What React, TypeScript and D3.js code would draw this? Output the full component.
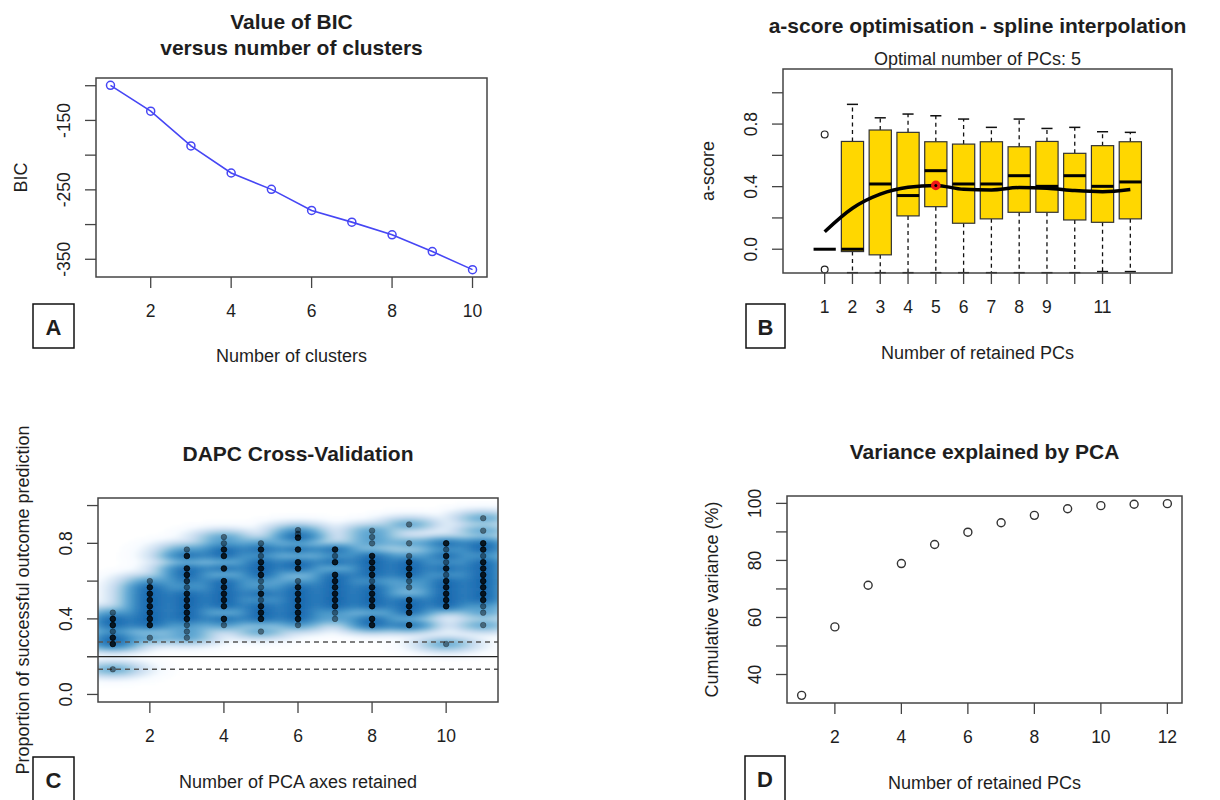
import React, { useEffect, useRef } from 'react';
import * as d3 from 'd3';

// A: BIC versus number of clusters
const bicClusters = [1, 2, 3, 4, 5, 6, 7, 8, 9, 10];
const bicValues = [-99.5, -136.6, -186.7, -225.7, -249.3, -279.6, -296.5, -314.7, -338.9, -364.9];

// B: a-score boxplots per number of retained PCs
const retainedPCs = [1, 2, 3, 4, 5, 6, 7, 8, 9, 10, 11, 12];
const aLower = [0, -0.15, -0.15, -0.15, -0.15, -0.15, -0.15, -0.15, -0.15, -0.15, -0.143, -0.143];
const aQ1 = [0, -0.015, -0.036, 0.213, 0.272, 0.166, 0.194, 0.236, 0.236, 0.187, 0.172, 0.194];
const aMedian = [0, 0, 0.417, 0.343, 0.502, 0.417, 0.417, 0.47, 0.402, 0.47, 0.402, 0.43];
const aQ3 = [0, 0.689, 0.762, 0.747, 0.687, 0.672, 0.687, 0.655, 0.689, 0.613, 0.662, 0.687];
const aUpper = [0, 0.926, 0.84, 0.864, 0.853, 0.832, 0.779, 0.832, 0.772, 0.779, 0.751, 0.747];
const aOutlierPC = [1, 1];
const aOutlierValue = [0.734, -0.13];
const aSpline = [0.112, 0.262, 0.352, 0.396, 0.408, 0.383, 0.379, 0.394, 0.39, 0.375, 0.368, 0.382];
const optimalPC = 5;

// C: DAPC cross-validation
const cvAxes = [1, 2, 3, 4, 5, 6, 7, 8, 9, 10, 11];
const cvSuccess = [
    [0.433, 0.4, 0.367, 0.333, 0.3, 0.267, 0.133],
    [0.6, 0.567, 0.533, 0.5, 0.467, 0.433, 0.4, 0.367, 0.3],
    [0.767, 0.733, 0.667, 0.633, 0.6, 0.567, 0.533, 0.5, 0.467, 0.433, 0.4, 0.367, 0.333, 0.3],
    [0.833, 0.8, 0.767, 0.733, 0.667, 0.6, 0.567, 0.533, 0.5, 0.467, 0.4, 0.367],
    [0.8, 0.767, 0.733, 0.7, 0.667, 0.633, 0.6, 0.567, 0.533, 0.5, 0.467, 0.433, 0.4, 0.333],
    [0.87, 0.85, 0.83, 0.767, 0.7, 0.667, 0.6, 0.567, 0.533, 0.5, 0.467, 0.433, 0.4, 0.367],
    [0.767, 0.733, 0.7, 0.633, 0.6, 0.567, 0.533, 0.5, 0.467, 0.433, 0.4],
    [0.867, 0.833, 0.8, 0.733, 0.7, 0.667, 0.633, 0.6, 0.567, 0.533, 0.5, 0.467, 0.4, 0.367],
    [0.9, 0.8, 0.733, 0.7, 0.667, 0.633, 0.6, 0.567, 0.5, 0.467, 0.433, 0.367],
    [0.8, 0.767, 0.733, 0.7, 0.667, 0.633, 0.6, 0.567, 0.533, 0.5, 0.467, 0.267],
    [0.933, 0.867, 0.8, 0.767, 0.733, 0.7, 0.667, 0.633, 0.6, 0.567, 0.533, 0.5, 0.467, 0.433, 0.367],
];
// how many replicates sit on each dot (darker dots in the picture)
const cvReplicates = [
    [1, 3, 3, 1, 3, 3, 1],
    [1, 3, 3, 3, 3, 3, 3, 3, 1],
    [1, 3, 3, 3, 2, 1, 3, 3, 3, 3, 3, 1, 1, 1],
    [1, 1, 3, 3, 3, 3, 3, 3, 3, 3, 3, 1],
    [1, 3, 1, 3, 3, 3, 1, 1, 3, 1, 3, 3, 3, 1],
    [1, 1, 3, 3, 3, 3, 1, 3, 3, 3, 3, 3, 3, 1],
    [3, 1, 3, 3, 3, 3, 3, 3, 3, 1, 1],
    [1, 1, 1, 3, 3, 3, 3, 1, 3, 3, 3, 3, 3, 3],
    [1, 1, 1, 3, 3, 3, 1, 1, 3, 3, 3, 3],
    [3, 1, 3, 1, 3, 1, 3, 3, 3, 3, 3, 1],
    [1, 1, 3, 3, 1, 3, 3, 3, 3, 3, 3, 3, 1, 1, 1],
];
const cvChanceLower = 0.133;
const cvChanceMean = 0.2;
const cvChanceUpper = 0.277;

// D: cumulative variance explained by PCA
const pcIndex = [1, 2, 3, 4, 5, 6, 7, 8, 9, 10, 11, 12];
const cumVariance = [32.7, 56.7, 71.3, 78.9, 85.6, 89.9, 93.2, 95.8, 98.1, 99.2, 99.7, 99.9];

const FONT = "'Liberation Sans', Arial, Helvetica, sans-serif";
const INK = '#1e1e1e';
const AXIS = '#444';
const blues9 = ['#FFFFFF', '#F7FBFF', '#DEEBF7', '#C6DBEF', '#9ECAE1', '#6BAED6', '#4292C6', '#2171B5', '#08519C', '#08306B'];

type Box = { left: number; right: number; top: number; bottom: number };
type G = d3.Selection<SVGGElement, unknown, null, undefined>;

const boxA: Box = { left: 96, right: 487, top: 78, bottom: 277 };
const boxB: Box = { left: 783, right: 1172, top: 69, bottom: 273 };
const boxC: Box = { left: 98, right: 498, top: 498, bottom: 702 };
const boxD: Box = { left: 787, right: 1182, top: 496, bottom: 703 };

const padded = (lo: number, hi: number): [number, number] => {
    const r = (hi - lo) * 0.04;
    return [lo - r, hi + r];
};

function label(g: G, x: number, y: number, s: string, size = 18, weight = 'normal', rotate = false) {
    const t = g.append('text')
        .attr('x', x)
        .attr('y', y)
        .attr('text-anchor', 'middle')
        .attr('dominant-baseline', 'central')
        .attr('font-family', FONT)
        .attr('font-size', size)
        .attr('font-weight', weight)
        .attr('fill', INK)
        .text(s);
    if (rotate) t.attr('transform', `rotate(-90 ${x} ${y})`);
    return t;
}

function frame(g: G, b: Box) {
    g.append('rect')
        .attr('x', b.left)
        .attr('y', b.top)
        .attr('width', b.right - b.left)
        .attr('height', b.bottom - b.top)
        .attr('fill', 'none')
        .attr('stroke', AXIS)
        .attr('stroke-width', 1.5);
}

function axes(
    g: G, b: Box,
    x: d3.ScaleLinear<number, number>, y: d3.ScaleLinear<number, number>,
    xTicks: number[], xShown: number[],
    yTicks: number[], yShown: number[],
    fy: (v: number) => string,
) {
    const len = 11;
    xTicks.forEach(t => {
        g.append('line')
            .attr('x1', x(t)).attr('x2', x(t))
            .attr('y1', b.bottom).attr('y2', b.bottom + len)
            .attr('stroke', AXIS).attr('stroke-width', 1.3);
    });
    xShown.forEach(t => label(g, x(t), b.bottom + 34, String(t), 17.5));
    yTicks.forEach(t => {
        g.append('line')
            .attr('x1', b.left - len).attr('x2', b.left)
            .attr('y1', y(t)).attr('y2', y(t))
            .attr('stroke', AXIS).attr('stroke-width', 1.3);
    });
    yShown.forEach(t => label(g, b.left - 32, y(t), fy(t), 17.5, 'normal', true));
}

function tag(g: G, x: number, y: number, w: number, h: number, s: string) {
    g.append('rect')
        .attr('x', x).attr('y', y)
        .attr('width', w).attr('height', h)
        .attr('fill', 'white')
        .attr('stroke', '#111')
        .attr('stroke-width', 1.5);
    label(g, x + w / 2, y + 23, s, 22, 'bold');
}

const App: React.FC = () => {
    const svgRef = useRef<SVGSVGElement>(null);

    useEffect(() => {
        if (!svgRef.current) return;
        const svg = d3.select(svgRef.current);
        svg.selectAll('*').remove();
        const defs = svg.append('defs');

        // ---------- A ----------
        const gA = svg.append('g') as unknown as G;
        const xA = d3.scaleLinear().domain(padded(1, 10)).range([boxA.left, boxA.right]);
        const yA = d3.scaleLinear()
            .domain(padded(d3.min(bicValues)!, d3.max(bicValues)!))
            .range([boxA.bottom, boxA.top]);
        const cxA = (boxA.left + boxA.right) / 2;
        label(gA, cxA, 21, 'Value of BIC', 21, 'bold');
        label(gA, cxA, 47, 'versus number of clusters', 21, 'bold');

        const lineA = d3.line<number>().x((_, i) => xA(bicClusters[i])).y(d => yA(d));
        gA.append('path')
            .attr('d', lineA(bicValues))
            .attr('fill', 'none')
            .attr('stroke', '#4646f4')
            .attr('stroke-width', 1.6);
        gA.selectAll('circle.bic')
            .data(bicValues)
            .join('circle')
            .attr('class', 'bic')
            .attr('cx', (_, i) => xA(bicClusters[i]))
            .attr('cy', d => yA(d))
            .attr('r', 4)
            .attr('fill', 'none')
            .attr('stroke', '#4646f4')
            .attr('stroke-width', 1.5);
        frame(gA, boxA);
        axes(gA, boxA, xA, yA, [2, 4, 6, 8, 10], [2, 4, 6, 8, 10],
            d3.range(-350, -99, 50), [-150, -250, -350], v => String(v));
        label(gA, cxA, boxA.bottom + 79, 'Number of clusters');
        label(gA, boxA.left - 75.5, (boxA.top + boxA.bottom) / 2, 'BIC', 18, 'normal', true);
        tag(gA, 33, 304, 41, 44, 'A');

        // ---------- B ----------
        const gB = svg.append('g') as unknown as G;
        const xB = d3.scaleLinear().domain([-0.5, 13.5]).range([boxB.left, boxB.right]);
        const yB = d3.scaleLinear().domain([-0.152, 1.152]).range([boxB.bottom, boxB.top]);
        const cxB = (boxB.left + boxB.right) / 2;
        label(gB, cxB, 25, 'a-score optimisation - spline interpolation', 21, 'bold');
        label(gB, cxB, 59, 'Optimal number of PCs: 5', 18);
        const bw = xB(0.4) - xB(-0.4);

        retainedPCs.forEach((pc, i) => {
            const cx = xB(pc);
            [[aQ3[i], aUpper[i]], [aQ1[i], aLower[i]]].forEach(([from, to]) => {
                gB.append('line')
                    .attr('x1', cx).attr('x2', cx)
                    .attr('y1', yB(from)).attr('y2', yB(to))
                    .attr('stroke', '#111')
                    .attr('stroke-width', 1.3)
                    .attr('stroke-dasharray', '4,3.5');
                gB.append('line')
                    .attr('x1', cx - bw / 4).attr('x2', cx + bw / 4)
                    .attr('y1', yB(to)).attr('y2', yB(to))
                    .attr('stroke', '#111')
                    .attr('stroke-width', 1.5);
            });
            gB.append('rect')
                .attr('x', cx - bw / 2)
                .attr('y', yB(aQ3[i]))
                .attr('width', bw)
                .attr('height', Math.max(0, yB(aQ1[i]) - yB(aQ3[i])))
                .attr('fill', '#FFD700')
                .attr('stroke', '#333')
                .attr('stroke-width', 1.2);
            gB.append('line')
                .attr('x1', cx - bw / 2).attr('x2', cx + bw / 2)
                .attr('y1', yB(aMedian[i])).attr('y2', yB(aMedian[i]))
                .attr('stroke', '#000')
                .attr('stroke-width', 3);
        });
        aOutlierPC.forEach((pc, i) => {
            gB.append('circle')
                .attr('cx', xB(pc)).attr('cy', yB(aOutlierValue[i]))
                .attr('r', 3.4)
                .attr('fill', 'none')
                .attr('stroke', '#222')
                .attr('stroke-width', 1.2);
        });
        const splineB = d3.line<number>()
            .x((_, i) => xB(retainedPCs[i]))
            .y(d => yB(d))
            .curve(d3.curveMonotoneX);
        gB.append('path')
            .attr('d', splineB(aSpline))
            .attr('fill', 'none')
            .attr('stroke', '#000')
            .attr('stroke-width', 3.5)
            .attr('stroke-linejoin', 'round');
        const optIdx = retainedPCs.indexOf(optimalPC);
        gB.append('circle')
            .attr('cx', xB(optimalPC)).attr('cy', yB(aSpline[optIdx]))
            .attr('r', 4.8)
            .attr('fill', '#f01818');
        gB.append('circle')
            .attr('cx', xB(optimalPC)).attr('cy', yB(aSpline[optIdx]))
            .attr('r', 1.5)
            .attr('fill', '#000');
        frame(gB, boxB);
        axes(gB, boxB, xB, yB, retainedPCs, [1, 2, 3, 4, 5, 6, 7, 8, 9, 11],
            [0, 0.2, 0.4, 0.6, 0.8, 1.0], [0, 0.4, 0.8], d3.format('.1f'));
        label(gB, cxB, boxB.bottom + 80, 'Number of retained PCs');
        label(gB, boxB.left - 75.5, (boxB.top + boxB.bottom) / 2, 'a-score', 18, 'normal', true);
        tag(gB, 746, 304, 39, 44, 'B');

        // ---------- C ----------
        const gC = svg.append('g') as unknown as G;
        const xC = d3.scaleLinear().domain(padded(1, 11)).range([boxC.left, boxC.right]);
        const yC = d3.scaleLinear().domain(padded(0, 1)).range([boxC.bottom, boxC.top]);
        const cxC = (boxC.left + boxC.right) / 2;
        label(gC, cxC, 453, 'DAPC Cross-Validation', 21, 'bold');

        defs.append('clipPath').attr('id', 'cvClip')
            .append('rect')
            .attr('x', boxC.left).attr('y', boxC.top)
            .attr('width', boxC.right - boxC.left)
            .attr('height', boxC.bottom - boxC.top);
        defs.append('filter').attr('id', 'cvBlur')
            .attr('x', '-5%').attr('y', '-5%').attr('width', '110%').attr('height', '110%')
            .append('feGaussianBlur').attr('stdDeviation', 1.4);

        const pts: { x: number; y: number; w: number }[] = [];
        cvAxes.forEach((a, i) => cvSuccess[i].forEach((v, j) => {
            pts.push({ x: xC(a), y: yC(v), w: cvReplicates[i][j] });
        }));

        // smoothed density (smoothScatter-like), fourth-root transformed
        const cell = 3;
        const sx = 14;
        const sy = 3.6;
        const cells: { x: number; y: number; s: number }[] = [];
        for (let py = boxC.top - cell; py < boxC.bottom + cell; py += cell) {
            for (let px = boxC.left - cell; px < boxC.right + cell; px += cell) {
                let s = 0;
                for (const p of pts) {
                    const dx = (px + cell / 2 - p.x) / sx;
                    const dy = (py + cell / 2 - p.y) / sy;
                    const e = dx * dx + dy * dy;
                    if (e < 40) s += p.w * Math.exp(-0.5 * e);
                }
                cells.push({ x: px, y: py, s });
            }
        }
        const maxS = d3.max(cells, c => c.s)!;
        const ramp = d3.scaleLinear<string>()
            .domain(d3.range(blues9.length).map(i => i / (blues9.length - 1)))
            .range(blues9)
            .interpolate(d3.interpolateRgb);
        const tone = (s: number) => 0.8 * Math.pow(s / maxS, 0.25);
        const dens = gC.append('g').attr('clip-path', 'url(#cvClip)')
            .append('g').attr('filter', 'url(#cvBlur)');
        dens.selectAll('rect')
            .data(cells.filter(c => tone(c.s) > 0.03))
            .join('rect')
            .attr('x', c => c.x)
            .attr('y', c => c.y)
            .attr('width', cell + 0.5)
            .attr('height', cell + 0.5)
            .attr('fill', c => ramp(tone(c.s)));

        // chance reference lines
        [cvChanceUpper, cvChanceLower].forEach(v => {
            gC.append('line')
                .attr('x1', boxC.left).attr('x2', boxC.right)
                .attr('y1', yC(v)).attr('y2', yC(v))
                .attr('stroke', '#555')
                .attr('stroke-width', 1.5)
                .attr('stroke-dasharray', '5,4');
        });
        gC.append('line')
            .attr('x1', boxC.left - 11).attr('x2', boxC.right)
            .attr('y1', yC(cvChanceMean)).attr('y2', yC(cvChanceMean))
            .attr('stroke', '#222')
            .attr('stroke-width', 1.4);

        const dots = gC.append('g');
        pts.forEach(p => {
            for (let k = 0; k < p.w; k++) {
                dots.append('circle')
                    .attr('cx', p.x).attr('cy', p.y)
                    .attr('r', 2.8)
                    .attr('fill', '#000')
                    .attr('fill-opacity', 0.42)
                    .attr('stroke', '#000')
                    .attr('stroke-opacity', 0.35)
                    .attr('stroke-width', 0.8);
            }
        });
        frame(gC, boxC);
        axes(gC, boxC, xC, yC, [2, 4, 6, 8, 10], [2, 4, 6, 8, 10],
            [0, 0.2, 0.4, 0.6, 0.8, 1.0], [0, 0.4, 0.8], d3.format('.1f'));
        label(gC, cxC, boxC.bottom + 80, 'Number of PCA axes retained');
        label(gC, boxC.left - 75.5, (boxC.top + boxC.bottom) / 2,
            'Proportion of successful outcome prediction', 18, 'normal', true);
        tag(gC, 33, 757, 41, 50, 'C');

        // ---------- D ----------
        const gD = svg.append('g') as unknown as G;
        const xD = d3.scaleLinear().domain(padded(1, 12)).range([boxD.left, boxD.right]);
        const yD = d3.scaleLinear()
            .domain(padded(d3.min(cumVariance)!, d3.max(cumVariance)!))
            .range([boxD.bottom, boxD.top]);
        const cxD = (boxD.left + boxD.right) / 2;
        label(gD, cxD, 451, 'Variance explained by PCA', 21, 'bold');
        gD.selectAll('circle.cv')
            .data(cumVariance)
            .join('circle')
            .attr('class', 'cv')
            .attr('cx', (_, i) => xD(pcIndex[i]))
            .attr('cy', d => yD(d))
            .attr('r', 4)
            .attr('fill', 'none')
            .attr('stroke', '#333')
            .attr('stroke-width', 1.4);
        frame(gD, boxD);
        axes(gD, boxD, xD, yD, [2, 4, 6, 8, 10, 12], [2, 4, 6, 8, 10, 12],
            d3.range(40, 101, 10), [40, 60, 80, 100], v => String(v));
        label(gD, cxD, boxD.bottom + 80, 'Number of retained PCs');
        label(gD, boxD.left - 75.5, (boxD.top + boxD.bottom) / 2, 'Cumulative variance (%)', 18, 'normal', true);
        tag(gD, 745, 756, 40, 50, 'D');
    }, []);

    return (
        <div style={{ position: 'absolute', left: 0, top: 0 }}>
            <svg ref={svgRef} width={1220} height={800} style={{ display: 'block', background: 'white' }} />
        </div>
    );
};

export default App;
